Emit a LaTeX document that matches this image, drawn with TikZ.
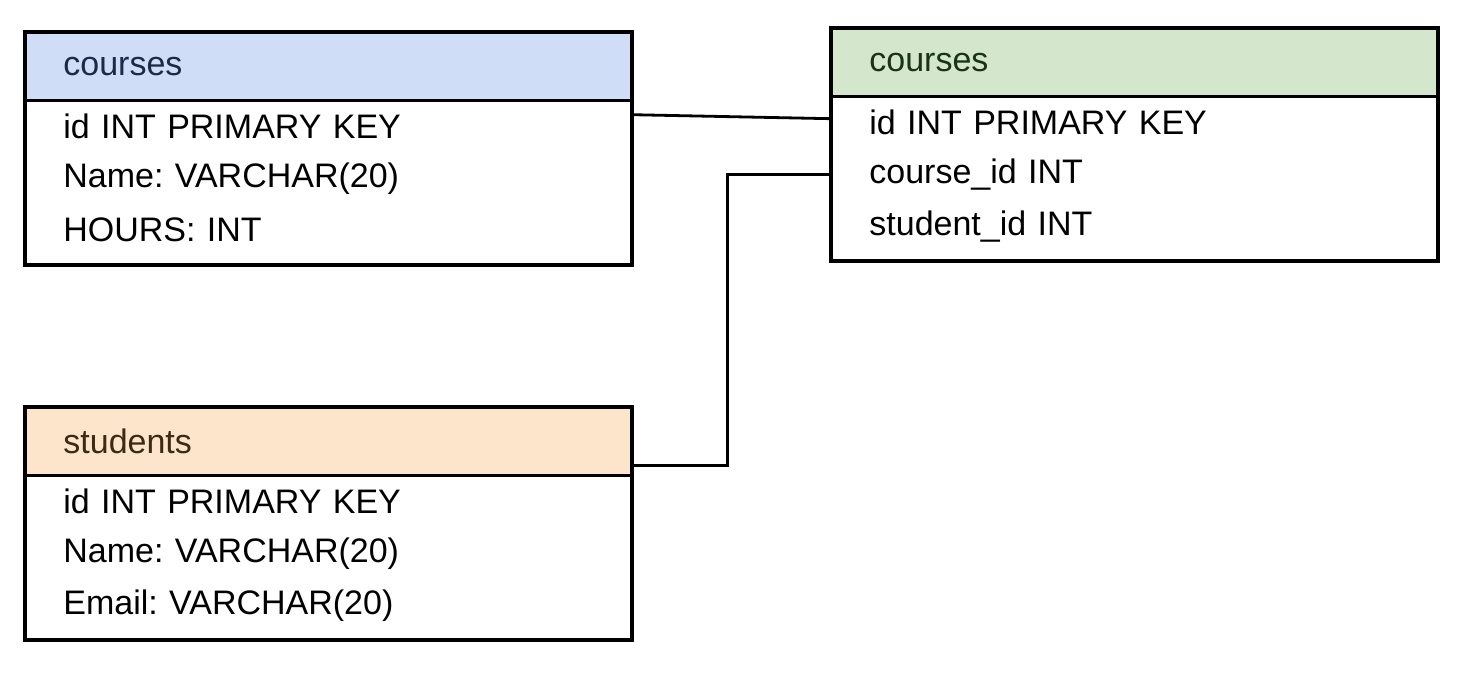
\documentclass[tikz,border=0pt]{standalone}
\usepackage{fontspec}
\setmainfont{Liberation Sans}
\usepackage{tikz}
\usetikzlibrary{positioning,calc}
\frenchspacing

\definecolor{headblue}{HTML}{CFDEF6}
\definecolor{headgreen}{HTML}{D4E7CD}
\definecolor{headorange}{HTML}{FDE5CC}
\definecolor{inkblue}{HTML}{1C2A48}
\definecolor{inkgreen}{HTML}{1A3315}
\definecolor{inkbrown}{HTML}{3D2A14}

\begin{document}
\begin{tikzpicture}[
    x=0.5pt, y=-0.5pt,
    node distance=0pt,
    tblhead/.style={
        fill=#1,
        anchor=north west,
        align=left,
        text width=265pt,
        minimum height=34pt,
        inner xsep=19pt,
        inner ysep=0pt,
        font=\fontsize{17}{20}\selectfont
    },
    tblrow/.style={
        align=left,
        text width=265pt,
        minimum height=25.5pt,
        inner xsep=19pt,
        inner ysep=0pt,
        font=\fontsize{17}{20}\selectfont
    },
    frame/.style={draw, line width=1.7pt},
    link/.style={draw, line width=1.4pt}
]
\useasboundingbox (0,0) rectangle (1474,694);

% courses (left)
\node[tblhead=headblue, text=inkblue] (ahead) at (25,32) {courses};
\node[tblrow, below=of ahead] (arow1) {id INT PRIMARY KEY};
\node[tblrow, below=of arow1] (arow2) {Name: VARCHAR(20)};
\node[tblrow, below=of arow2] (arow3) {HOURS: INT};
\draw[frame] (ahead.north west) rectangle ([yshift=-4.5pt]arow3.south east);
\draw[frame] (ahead.south west) -- (ahead.south east);

% courses (right)
\node[tblhead=headgreen, text=inkgreen] (bhead) at (831,28) {courses};
\node[tblrow, below=of bhead] (brow1) {id INT PRIMARY KEY};
\node[tblrow, below=of brow1] (brow2) {course\_id INT};
\node[tblrow, below=of brow2] (brow3) {student\_id INT};
\draw[frame] (bhead.north west) rectangle ([yshift=-4.5pt]brow3.south east);
\draw[frame] (bhead.south west) -- (bhead.south east);

% students
\node[tblhead=headorange, text=inkbrown] (chead) at (25,407) {students};
\node[tblrow, below=of chead] (crow1) {id INT PRIMARY KEY};
\node[tblrow, below=of crow1] (crow2) {Name: VARCHAR(20)};
\node[tblrow, below=of crow2] (crow3) {Email: VARCHAR(20)};
\draw[frame] (chead.north west) rectangle ([yshift=-4.5pt]crow3.south east);
\draw[frame] (chead.south west) -- (chead.south east);

% links
\draw[link] ([yshift=6pt]arow1.east) -- ([yshift=2pt]brow1.west);
\draw[link] ([yshift=5pt]chead.south east) -- ++(48pt,0) |- (brow2.west);

\end{tikzpicture}
\end{document}
